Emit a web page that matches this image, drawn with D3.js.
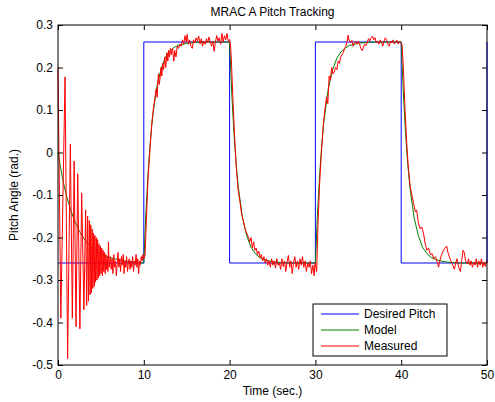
<!DOCTYPE html>
<html>
<head>
<meta charset="utf-8">
<script src="https://cdn.jsdelivr.net/npm/d3@7"></script>
<style>
  body { margin: 0; background: #fff; }
  svg { font-family: "Liberation Sans", Arial, sans-serif; }
</style>
</head>
<body>
<svg></svg>
<script>
const width = 495;
const height = 402;
const plotLeft = 58, plotRight = 487, plotTop = 25, plotBottom = 365;

// desired pitch (square wave)
const desiredTime = [0, 10, 10, 20, 20, 30, 30, 40, 40, 50, 50];
const desiredPitch = [-0.26, -0.26, 0.26, 0.26, -0.26, -0.26, 0.26, 0.26, -0.26, -0.26, 0.26];

// reference model response
const modelTime = [0, 0.25, 0.5, 0.75, 1, 1.5, 2, 2.5, 3, 3.5, 4, 5, 6, 7, 8, 9, 10,
    10.25, 10.5, 10.75, 11, 11.5, 12, 12.5, 13, 13.5, 14, 15, 16, 17, 20,
    20.25, 20.5, 20.75, 21, 21.5, 22, 22.5, 23, 23.5, 24, 25, 26, 27, 30,
    30.25, 30.5, 30.75, 31, 31.5, 32, 32.5, 33, 33.5, 34, 35, 36, 37, 40,
    40.25, 40.5, 40.75, 41, 41.5, 42, 42.5, 43, 43.5, 44, 45, 46, 47, 50];
const modelPitch = [0, -0.03, -0.058, -0.081, -0.102, -0.137, -0.164, -0.185, -0.202, -0.215, -0.225, -0.239, -0.247, -0.252, -0.256, -0.258, -0.26,
    -0.14, -0.047, 0.024, 0.079, 0.153, 0.196, 0.223, 0.238, 0.247, 0.252, 0.257, 0.259, 0.26, 0.26,
    0.14, 0.047, -0.024, -0.079, -0.153, -0.196, -0.223, -0.238, -0.247, -0.252, -0.257, -0.259, -0.26, -0.26,
    -0.14, -0.05, 0.02, 0.075, 0.15, 0.194, 0.222, 0.237, 0.246, 0.252, 0.257, 0.259, 0.26, 0.26,
    0.14, 0.047, -0.024, -0.079, -0.153, -0.196, -0.223, -0.238, -0.247, -0.252, -0.257, -0.259, -0.26, -0.26];

// measured pitch
const measuredTime = [0, 0.33, 0.82, 1.12, 1.44, 1.67, 1.88, 2.1, 2.3, 2.55, 2.76, 3.02, 3.22,
    3.34, 3.45, 3.55, 3.65, 3.74, 3.82, 3.9, 3.98, 4.06, 4.14, 4.22, 4.3, 4.38, 4.46, 4.54, 4.62, 4.7, 4.78, 4.86, 4.94,
    5.02, 5.1, 5.18, 5.26, 5.34, 5.42, 5.5, 5.58, 5.66, 5.74, 5.82, 5.88, 5.96,
    6.1, 6.2, 6.3, 6.4, 6.5, 6.6, 6.7, 6.8, 6.9, 7.0, 7.1, 7.2, 7.3, 7.4, 7.5, 7.6, 7.7, 7.8, 7.9, 8.0,
    8.1, 8.2, 8.3, 8.4, 8.5, 8.6, 8.7, 8.8, 8.9, 9.0, 9.1, 9.2, 9.3, 9.4, 9.5, 9.6, 9.7, 9.8, 9.9, 10.0,
    10.15, 10.3, 10.5, 10.7, 10.9, 11.1, 11.3, 11.45, 11.55, 11.7, 11.8, 11.9, 12.0, 12.1, 12.2, 12.3, 12.45, 12.55, 12.7, 12.8,
    12.9, 13.0, 13.1, 13.2, 13.35, 13.5, 13.6, 13.75, 13.9, 14.05, 14.2, 14.35, 14.5, 14.65, 14.8, 14.95, 15.05, 15.2, 15.35, 15.5,
    15.65, 15.8, 15.95, 16.1, 16.25, 16.4, 16.55, 16.7, 16.85, 17.0, 17.15, 17.3, 17.45, 17.6, 17.75, 17.9, 18.05, 18.2, 18.35, 18.5,
    18.65, 18.8, 18.95, 19.1, 19.25, 19.4, 19.55, 19.7, 19.85, 20.0, 20.1,
    20.2, 20.4, 20.6, 20.8, 21.0, 21.2, 21.4, 21.6, 21.8, 22.0, 22.2, 22.35, 22.5, 22.65, 22.8, 22.95, 23.1, 23.25, 23.4, 23.55,
    23.7, 23.85, 24.0, 24.15, 24.3, 24.45, 24.6, 24.75, 24.9, 25.05, 25.2, 25.35, 25.5, 25.65, 25.8, 25.95, 26.1, 26.25, 26.4, 26.55,
    26.7, 26.85, 27.0, 27.15, 27.3, 27.45, 27.6, 27.75, 27.9, 28.05, 28.2, 28.35, 28.5, 28.65, 28.8, 28.95, 29.1, 29.25, 29.4, 29.55,
    29.7, 29.85, 29.95, 30.15,
    30.3, 30.5, 30.7, 30.9, 31.1, 31.3, 31.45, 31.6, 31.75, 31.9, 32.05, 32.2, 32.35, 32.5, 32.65, 32.8, 32.95, 33.1, 33.25, 33.4,
    33.55, 33.7, 33.8, 33.95, 34.1, 34.25, 34.4, 34.55, 34.7, 34.85, 35.0, 35.15, 35.3, 35.45, 35.6, 35.75, 35.9, 36.05, 36.2, 36.35,
    36.5, 36.65, 36.8, 36.95, 37.1, 37.25, 37.4, 37.55, 37.7, 37.85, 38.0, 38.15, 38.3, 38.45, 38.6, 38.75, 38.9, 39.05, 39.2, 39.35,
    39.5, 39.65, 39.8, 39.95, 40.1,
    40.25, 40.45, 40.65, 40.85, 41.05, 41.25, 41.45, 41.65, 41.8, 42.0, 42.2, 42.4, 42.6, 42.8, 43.0, 43.2, 43.4, 43.6, 43.8, 44.0,
    44.2, 44.35, 44.5, 44.7, 44.9, 45.1, 45.3, 45.45, 45.6, 45.8, 46.0, 46.2, 46.35, 46.5, 46.7, 46.9, 47.05, 47.2, 47.35, 47.5,
    47.7, 47.85, 48.0, 48.15, 48.3, 48.45, 48.6, 48.75, 48.9, 49.05, 49.2, 49.35, 49.5, 49.65, 49.8, 49.95, 50];
const measuredPitch = [0.2, -0.39, 0.178, -0.485, 0.02, -0.39, -0.02, -0.41, -0.05, -0.415, -0.095, -0.37, -0.135,
    -0.36, -0.15, -0.35, -0.16, -0.335, -0.17, -0.33, -0.18, -0.32, -0.19, -0.315, -0.195, -0.305, -0.2, -0.3, -0.205, -0.295, -0.215, -0.29, -0.22,
    -0.285, -0.225, -0.29, -0.23, -0.28, -0.235, -0.285, -0.24, -0.275, -0.245, -0.28, -0.21, -0.27,
    -0.245, -0.275, -0.25, -0.285, -0.24, -0.27, -0.255, -0.29, -0.26, -0.235, -0.27, -0.25, -0.28, -0.245, -0.265, -0.24, -0.285, -0.255, -0.27, -0.245,
    -0.28, -0.26, -0.25, -0.275, -0.255, -0.27, -0.245, -0.28, -0.255, -0.265, -0.24, -0.27, -0.25, -0.285, -0.255, -0.265, -0.245, -0.255, -0.24, -0.25,
    -0.24, -0.16, -0.06, 0.0, 0.06, 0.1, 0.13, 0.15, 0.13, 0.185, 0.16, 0.175, 0.2, 0.18, 0.21, 0.195, 0.225, 0.2, 0.235, 0.215,
    0.24, 0.225, 0.245, 0.23, 0.245, 0.215, 0.24, 0.225, 0.25, 0.245, 0.255, 0.25, 0.265, 0.255, 0.275, 0.26, 0.278, 0.255, 0.265, 0.25,
    0.245, 0.265, 0.258, 0.27, 0.262, 0.274, 0.255, 0.268, 0.25, 0.262, 0.255, 0.268, 0.258, 0.272, 0.26, 0.25, 0.262, 0.238, 0.26, 0.275,
    0.262, 0.27, 0.255, 0.28, 0.26, 0.275, 0.265, 0.28, 0.262, 0.266, 0.255,
    0.22, 0.12, 0.03, -0.04, -0.09, -0.115, -0.145, -0.16, -0.18, -0.19, -0.2, -0.21, -0.2, -0.225, -0.21, -0.23, -0.225, -0.24, -0.232, -0.248,
    -0.24, -0.255, -0.245, -0.26, -0.25, -0.265, -0.255, -0.27, -0.25, -0.265, -0.255, -0.272, -0.25, -0.265, -0.26, -0.275, -0.25, -0.268, -0.255, -0.28,
    -0.258, -0.242, -0.27, -0.255, -0.285, -0.26, -0.245, -0.27, -0.255, -0.275, -0.25, -0.265, -0.245, -0.27, -0.255, -0.28, -0.26, -0.27, -0.255, -0.285,
    -0.265, -0.29, -0.26, -0.28,
    -0.17, -0.07, 0.0, 0.06, 0.1, 0.13, 0.115, 0.18, 0.17, 0.2, 0.185, 0.19, 0.2, 0.195, 0.215, 0.21, 0.225, 0.23, 0.235, 0.245,
    0.25, 0.262, 0.276, 0.262, 0.258, 0.264, 0.25, 0.258, 0.262, 0.255, 0.262, 0.255, 0.245, 0.24, 0.248, 0.255, 0.252, 0.26, 0.268, 0.262,
    0.27, 0.274, 0.265, 0.27, 0.258, 0.262, 0.255, 0.265, 0.26, 0.25, 0.262, 0.27, 0.265, 0.255, 0.25, 0.262, 0.258, 0.265, 0.255, 0.26,
    0.264, 0.255, 0.262, 0.258, 0.255,
    0.2, 0.1, 0.02, -0.04, -0.08, -0.1, -0.12, -0.14, -0.135, -0.165, -0.18, -0.175, -0.19, -0.215, -0.23, -0.225, -0.24, -0.238, -0.25, -0.245,
    -0.258, -0.27, -0.255, -0.24, -0.232, -0.225, -0.22, -0.235, -0.245, -0.255, -0.265, -0.275, -0.26, -0.25, -0.27, -0.28, -0.255, -0.23, -0.235, -0.255,
    -0.262, -0.25, -0.265, -0.255, -0.27, -0.258, -0.265, -0.25, -0.27, -0.255, -0.265, -0.25, -0.27, -0.258, -0.268, -0.255, -0.26];

const xTicks = [0, 10, 20, 30, 40, 50];
const yTicks = [-0.5, -0.4, -0.3, -0.2, -0.1, 0, 0.1, 0.2, 0.3];
const seriesNames = ["Desired Pitch", "Model", "Measured"];
const seriesColors = ["#0000ff", "#008000", "#ff0000"];

let svg = d3.select("svg").attr("width", width).attr("height", height);

let scaleX = d3.scaleLinear().domain([0, 50]).range([plotLeft, plotRight]);
let scaleY = d3.scaleLinear().domain([-0.5, 0.3]).range([plotBottom, plotTop]);

function toPoints(ts, vs) {
    return ts.map((t, i) => [t, vs[i]]);
}

let line = d3.line().x(d => scaleX(d[0])).y(d => scaleY(d[1]));

let plot = svg.append("g");
const series = [
    toPoints(desiredTime, desiredPitch),
    toPoints(modelTime, modelPitch),
    toPoints(measuredTime, measuredPitch)
];
series.forEach((pts, i) => {
    plot.append("path")
        .attr("d", line(pts))
        .attr("fill", "none")
        .attr("stroke", seriesColors[i])
        .attr("stroke-width", 1);
});

// axes, ticks inside like matlab
function fmt(d) { return d === 0 ? "0" : String(d); }

let axB = svg.append("g").attr("transform", `translate(0,${plotBottom})`)
    .call(d3.axisBottom(scaleX).tickValues(xTicks).tickSize(-5).tickPadding(5).tickFormat(fmt));
let axT = svg.append("g").attr("transform", `translate(0,${plotTop})`)
    .call(d3.axisTop(scaleX).tickValues(xTicks).tickSize(-5).tickFormat(""));
let axL = svg.append("g").attr("transform", `translate(${plotLeft},0)`)
    .call(d3.axisLeft(scaleY).tickValues(yTicks).tickSize(-5).tickPadding(5).tickFormat(fmt));
let axR = svg.append("g").attr("transform", `translate(${plotRight},0)`)
    .call(d3.axisRight(scaleY).tickValues(yTicks).tickSize(-5).tickFormat(""));

[axB, axT, axL, axR].forEach(g => {
    g.select(".domain").remove();
    g.selectAll("line").attr("stroke", "#000");
    g.selectAll("text").attr("fill", "#000").style("font-size", "12px")
        .style("font-family", "'Liberation Sans', Arial, sans-serif");
});

svg.append("rect")
    .attr("x", plotLeft).attr("y", plotTop)
    .attr("width", plotRight - plotLeft).attr("height", plotBottom - plotTop)
    .attr("fill", "none").attr("stroke", "#000").attr("stroke-width", 1);

svg.append("text")
    .attr("x", (plotLeft + plotRight) / 2).attr("y", 16)
    .attr("text-anchor", "middle").style("font-size", "12px")
    .text("MRAC A Pitch Tracking");

svg.append("text")
    .attr("x", (plotLeft + plotRight) / 2).attr("y", 395)
    .attr("text-anchor", "middle").style("font-size", "12px")
    .text("Time (sec.)");

svg.append("text")
    .attr("transform", `translate(18,${(plotTop + plotBottom) / 2}) rotate(-90)`)
    .attr("text-anchor", "middle").style("font-size", "12px")
    .text("Pitch Angle (rad.)");

// legend
let legend = svg.append("g").attr("transform", "translate(313,304)");
legend.append("rect")
    .attr("width", 134).attr("height", 52)
    .attr("fill", "#fff").attr("stroke", "#000");
seriesNames.forEach((name, i) => {
    let y = 10 + i * 16;
    legend.append("line")
        .attr("x1", 8).attr("x2", 46).attr("y1", y).attr("y2", y)
        .attr("stroke", seriesColors[i]);
    legend.append("text")
        .attr("x", 51).attr("y", y + 4).style("font-size", "12px")
        .text(name);
});
</script>
</body>
</html>
